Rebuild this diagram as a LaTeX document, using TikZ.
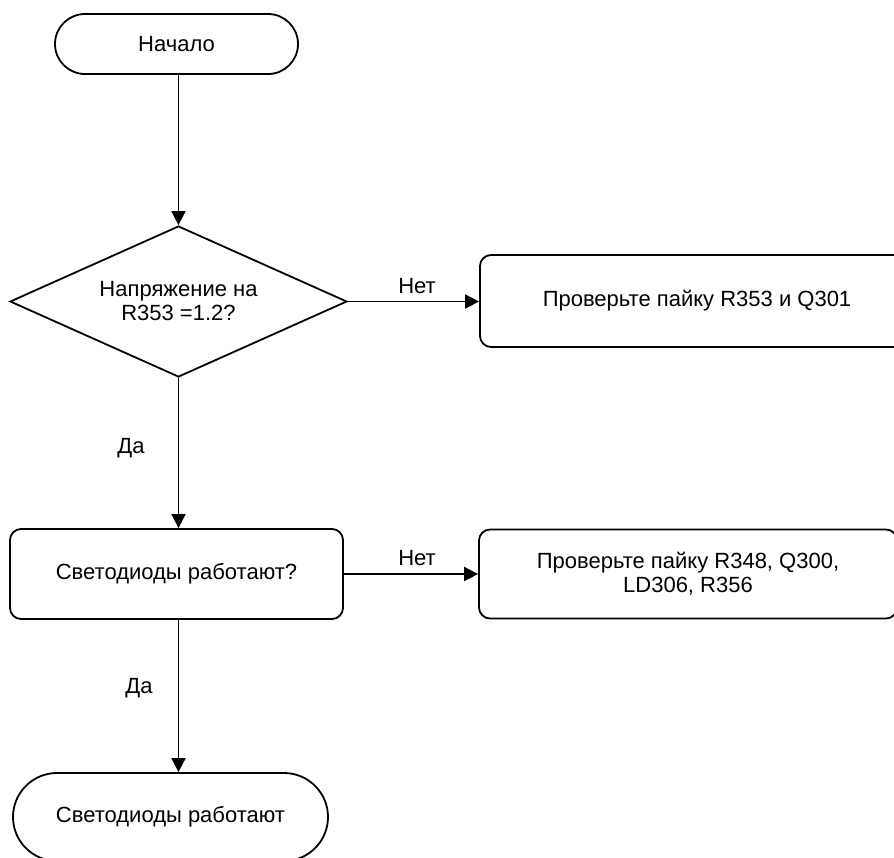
\documentclass[tikz,border=0pt]{standalone}
\usepackage{fontspec}
\setmainfont{Liberation Sans}
\usetikzlibrary{shapes.geometric,shapes.misc,arrows.meta}
\begin{document}
\begin{tikzpicture}[x=1pt,y=-1pt,
  every node/.style={font=\fontsize{22}{24}\selectfont, align=center, inner sep=0pt},
  term/.style={draw, line width=1.8pt, rounded rectangle},
  procbox/.style={draw, line width=1.8pt, rectangle, rounded corners=11pt},
  decision/.style={draw, line width=1.8pt, diamond, aspect=2.23},
  flow/.style={line width=1.8pt, -{Triangle[length=14pt,width=14pt]}},
  lbl/.style={}]
\useasboundingbox (0,0) rectangle (894,857);
\clip (0,0) rectangle (894,857);
\node[term, minimum width=243pt, minimum height=60pt] (start) at (176.5,44) {Начало};
\node[decision, minimum width=337pt, minimum height=151pt] (dec) at (178.5,301.5) {Напряжение на\\R353 =1.2?};
\node[procbox, minimum width=434pt, minimum height=92pt] (chk1) at (697,301) {Проверьте пайку R353 и Q301};
\node[procbox, minimum width=333pt, minimum height=90pt] (led) at (176.5,574) {Светодиоды работают?};
\node[procbox, minimum width=418pt, minimum height=89pt] (chk2) at (688,574) {Проверьте пайку R348, Q300,\\LD306, R356};
\node[term, minimum width=315pt, minimum height=88pt] (fin) at (170.5,817) {Светодиоды работают};
\node[lbl] (n1) at (417,286) {Нет};
\node[lbl] (n2) at (417,558) {Нет};
\node[lbl] (y1) at (131,448) {Да};
\node[lbl] (y2) at (139,688) {Да};
\draw[flow] (start.south -| dec.north) -- (dec.north);
\draw[flow] (dec.east) -- (chk1.west |- dec.east);
\draw[flow] (dec.south) -- (dec.south |- led.north);
\draw[flow] (led.east) -- (chk2.west |- led.east);
\draw[flow] (led.south -| dec.south) -- (dec.south |- fin.north);
\end{tikzpicture}
\end{document}
